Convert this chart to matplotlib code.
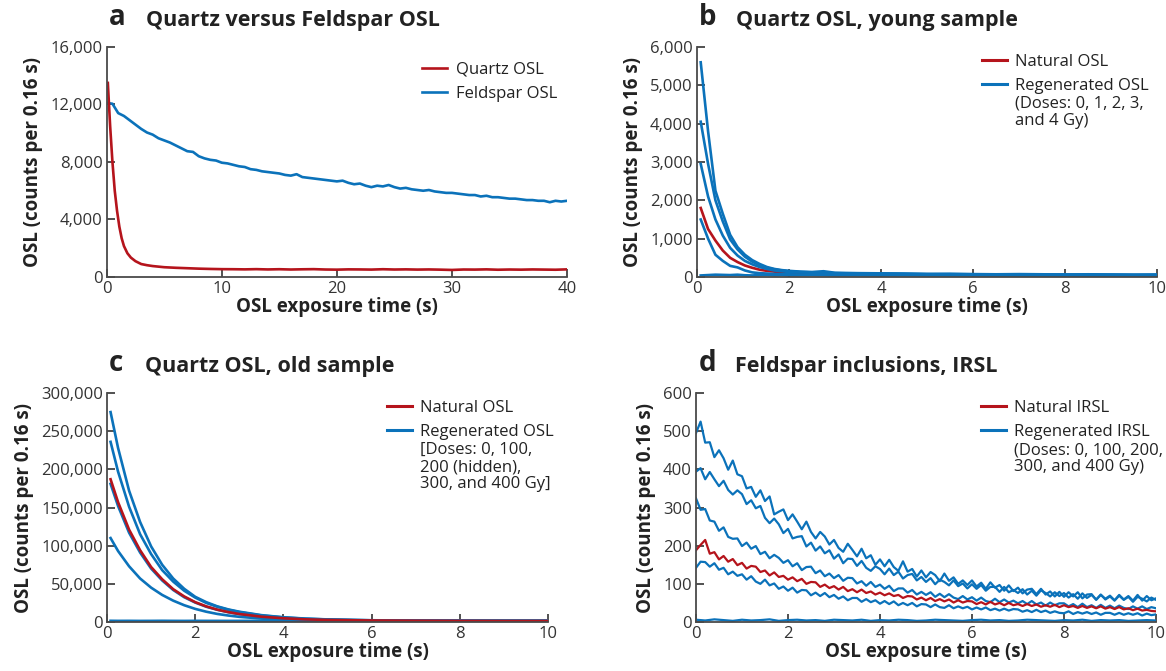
import numpy as np
import matplotlib.pyplot as plt
from matplotlib.ticker import FuncFormatter, MultipleLocator

plt.rcParams['font.family'] = ['Open Sans', 'DejaVu Sans']

RED = '#B5141C'
BLUE = '#0B72BA'

# ---- panel a: quartz vs feldspar OSL ----
t_quartz = [0.1, 0.3, 0.5, 0.7, 0.9, 1.1, 1.3, 1.5, 1.8, 2.1, 2.5, 3.0, 3.5, 4.0,
            5, 6, 7, 8, 9, 10, 11, 12, 13, 14, 15, 16, 17, 18, 19, 20, 21, 22, 23,
            24, 25, 26, 27, 28, 29, 30, 31, 32, 33, 34, 35, 36, 37, 38, 39, 40]
quartz_osl = [13500, 10500, 8000, 6000, 4600, 3500, 2700, 2150, 1650, 1350, 1100, 900,
              820, 760, 680, 640, 610, 580, 560, 545, 540, 530, 545, 525, 540, 520, 535,
              545, 520, 510, 530, 525, 515, 540, 520, 530, 515, 525, 510, 490, 520, 515,
              530, 505, 520, 510, 525, 515, 505, 530]
t_feldspar = [0.1] + [0.5 * k for k in range(1, 81)]
feldspar_osl = [12100, 12050, 11400, 11200, 10900, 10600, 10300, 10050, 9900, 9650, 9500,
                9350, 9150, 8950, 8750, 8700, 8400, 8250, 8150, 8100, 7950, 7900, 7800,
                7700, 7650, 7500, 7450, 7350, 7300, 7250, 7200, 7100, 7050, 7150, 6950,
                6900, 6850, 6800, 6750, 6700, 6650, 6700, 6550, 6450, 6500, 6350, 6250,
                6350, 6300, 6400, 6250, 6150, 6200, 6100, 6050, 6000, 6050, 5950, 5900,
                5850, 5850, 5800, 5750, 5700, 5700, 5600, 5650, 5550, 5550, 5500, 5450,
                5450, 5400, 5350, 5350, 5300, 5300, 5200, 5300, 5250, 5300]

# ---- panel b: quartz, young sample (doses 0-4 Gy) ----
t_young = [0.08, 0.24, 0.40, 0.56, 0.72, 0.88, 1.04, 1.20, 1.36, 1.52, 1.68, 1.84, 2.0,
           2.25, 2.5, 2.75, 3, 3.5, 4, 4.5, 5, 5.5, 6, 6.5, 7, 7.5, 8, 8.5, 9, 9.5, 10]
young_natural = [1800, 1250, 950, 690, 500, 390, 300, 240, 190, 160, 140, 120, 110, 100,
                 90, 85, 80, 75, 70, 65, 60, 60, 55, 55, 50, 50, 50, 45, 45, 45, 45]
young_regen = {
    '4 Gy': [5600, 3800, 2250, 1650, 1100, 780, 580, 440, 340, 260, 210, 180, 160, 140,
             130, 150, 110, 100, 95, 90, 80, 85, 75, 70, 75, 70, 65, 70, 65, 60, 65],
    '3 Gy': [4050, 2950, 2000, 1450, 980, 720, 530, 400, 310, 240, 200, 170, 150, 130,
             120, 110, 100, 90, 85, 80, 75, 70, 70, 65, 65, 60, 60, 55, 60, 55, 55],
    '2 Gy': [2950, 2100, 1500, 1080, 760, 560, 420, 330, 260, 210, 170, 150, 130, 120,
             110, 100, 90, 85, 80, 75, 70, 65, 65, 60, 60, 55, 55, 55, 50, 50, 50],
    '1 Gy': [1500, 1000, 580, 420, 290, 250, 170, 120, 100, 90, 80, 75, 70, 65, 60, 60,
             55, 55, 50, 50, 50, 45, 45, 45, 45, 40, 45, 40, 40, 40, 40],
    '0 Gy': [40, 50, 60, 55, 50, 60, 45, 40, 50, 55, 45, 50, 40, 45, 50, 45, 40, 45, 40,
             45, 40, 40, 45, 40, 40, 45, 40, 40, 40, 40, 40],
}

# ---- panel c: quartz, old sample (doses 0-400 Gy) ----
t_old = [0.08, 0.25, 0.5, 0.75, 1.0, 1.25, 1.5, 1.75, 2.0, 2.25, 2.5, 2.75, 3.0, 3.5,
         4.0, 4.5, 5, 6, 7, 8, 9, 10]
old_natural = [187000, 157000, 121000, 94000, 72000, 56000, 43000, 33500, 26000, 20500,
               16200, 13000, 10500, 7000, 4900, 3500, 2700, 2000, 1700, 1500, 1400, 1400]
old_regen = {
    '400 Gy': [275000, 228000, 172000, 131000, 99000, 75000, 57000, 43500, 33000, 26000,
               20500, 16500, 13500, 9000, 6200, 4500, 3400, 2300, 1900, 1700, 1600, 1500],
    '300 Gy': [236000, 197000, 151000, 115000, 89000, 68000, 53000, 41000, 32000, 25000,
               20000, 16000, 13000, 8600, 6000, 4300, 3300, 2200, 1800, 1600, 1500, 1500],
    '200 Gy': [181000, 152000, 117000, 91000, 70000, 54500, 42000, 32500, 25500, 20000,
               16000, 12800, 10300, 6800, 4700, 3400, 2600, 1900, 1600, 1500, 1400, 1400],
    '100 Gy': [110000, 93000, 73000, 57000, 45000, 35500, 28000, 22000, 17200, 13500,
               10600, 8500, 6800, 4500, 3200, 2500, 2000, 1600, 1400, 1300, 1300, 1300],
    '0 Gy': [1600, 1500, 1550, 1450, 1500, 1600, 1500, 1450, 1550, 1500, 1500, 1450, 1500,
             1550, 1500, 1450, 1500, 1500, 1450, 1500, 1500, 1450],
}

# ---- panel d: feldspar inclusions, IRSL (0.1 s steps, 0-10 s) ----
irsl_natural = [
    188, 202, 215, 179, 183, 164, 173, 158, 165, 149,
    155, 140, 147, 145, 131, 135, 122, 130, 118, 121,
    111, 117, 107, 113, 100, 105, 104, 92, 98, 89,
    94, 85, 92, 81, 86, 78, 85, 76, 80, 72,
    77, 70, 75, 68, 71, 63, 68, 67, 59, 64,
    57, 63, 55, 60, 54, 59, 51, 57, 51, 55,
    54, 47, 52, 46, 53, 46, 50, 44, 50, 44,
    47, 42, 47, 42, 46, 40, 44, 40, 45, 39,
    44, 39, 42, 37, 42, 37, 41, 36, 41, 35,
    39, 34, 39, 33, 36, 31, 35, 30, 32, 29,
    28]
irsl_regen = {
    '400 Gy': [
        495, 525, 470, 471, 432, 450, 429, 399, 423, 387,
        382, 350, 354, 328, 345, 317, 329, 282, 289, 295,
        267, 282, 263, 243, 263, 236, 219, 236, 224, 203,
        215, 194, 184, 205, 189, 172, 192, 167, 175, 150,
        164, 146, 163, 144, 134, 159, 132, 139, 119, 135,
        117, 131, 123, 107, 127, 108, 117, 100, 109, 97,
        109, 93, 103, 87, 104, 90, 97, 82, 96, 81,
        90, 75, 85, 87, 73, 87, 72, 80, 67, 79,
        66, 78, 67, 78, 62, 72, 73, 58, 71, 61,
        69, 57, 71, 59, 68, 56, 71, 56, 68, 57,
        62],
    '300 Gy': [
        394, 403, 374, 393, 374, 356, 370, 346, 334, 345,
        335, 309, 319, 298, 304, 273, 259, 271, 256, 233,
        244, 219, 223, 225, 198, 208, 187, 198, 180, 188,
        166, 177, 154, 166, 165, 147, 160, 142, 134, 146,
        139, 125, 140, 123, 132, 114, 123, 126, 109, 118,
        105, 115, 99, 111, 105, 96, 109, 94, 101, 88,
        99, 87, 97, 82, 92, 92, 79, 92, 78, 84,
        76, 86, 72, 82, 69, 83, 76, 67, 78, 68,
        76, 64, 73, 61, 75, 63, 71, 59, 72, 59,
        67, 56, 69, 58, 66, 53, 66, 61, 54, 64,
        58],
    '200 Gy': [
        324, 294, 296, 266, 263, 239, 248, 223, 218, 219,
        199, 208, 192, 199, 178, 184, 167, 176, 168, 155,
        162, 146, 154, 136, 144, 145, 128, 135, 120, 127,
        115, 123, 108, 116, 115, 101, 107, 95, 105, 92,
        98, 87, 95, 81, 88, 88, 77, 84, 72, 79,
        71, 78, 66, 74, 65, 73, 64, 60, 68, 59,
        65, 56, 64, 55, 52, 61, 52, 59, 51, 56,
        49, 55, 47, 55, 46, 51, 43, 51, 44, 49,
        49, 41, 47, 39, 48, 39, 44, 37, 45, 37,
        43, 36, 43, 37, 34, 41, 35, 41, 34, 39,
        36],
    '100 Gy': [
        142, 158, 157, 145, 154, 137, 142, 125, 132, 121,
        125, 111, 120, 106, 100, 111, 96, 101, 87, 93,
        82, 90, 77, 84, 83, 70, 77, 68, 76, 65,
        71, 61, 67, 57, 63, 63, 53, 60, 52, 57,
        48, 55, 47, 54, 44, 50, 44, 50, 41, 47,
        46, 39, 46, 39, 37, 44, 36, 41, 36, 40,
        33, 38, 33, 38, 31, 35, 30, 35, 30, 34,
        33, 27, 31, 26, 32, 26, 30, 24, 28, 24,
        23, 28, 21, 26, 22, 26, 21, 25, 19, 24,
        24, 19, 24, 19, 23, 19, 23, 17, 22, 18,
        20],
    '0 Gy': [6, 4, 7, 5, 3, 6, 4, 5, 7, 3, 5, 6, 4, 5, 3, 6, 5, 4, 6, 3, 5, 4, 6, 5, 3, 4,
             6, 5, 4, 3, 5, 6, 4, 5, 3, 4, 6, 5, 4, 3, 5, 4, 6, 3, 5, 4, 5, 3, 4, 5, 4],
}

fig = plt.figure(figsize=(11.66, 6.71), dpi=100)
ax_a = fig.add_axes([0.0915, 0.5872, 0.3948, 0.3428])
ax_b = fig.add_axes([0.5978, 0.5872, 0.3945, 0.3428])
ax_c = fig.add_axes([0.0918, 0.0730, 0.3782, 0.3413])
ax_d = fig.add_axes([0.5969, 0.0730, 0.3945, 0.3413])

comma = FuncFormatter(lambda v, p: f'{v:,.0f}')


def style(ax, xmax, xstep, ymax, ystep):
    ax.set_xlim(0, xmax)
    ax.set_ylim(0, ymax)
    ax.xaxis.set_major_locator(MultipleLocator(xstep))
    ax.yaxis.set_major_locator(MultipleLocator(ystep))
    ax.yaxis.set_major_formatter(comma)
    for s in ['top', 'right']:
        ax.spines[s].set_visible(False)
    for s in ['left', 'bottom']:
        ax.spines[s].set_color('#4a4a4a')
        ax.spines[s].set_linewidth(1.3)
    ax.tick_params(direction='in', length=6, width=1.2, color='#333333',
                   labelsize=12, labelcolor='#333333', pad=3)
    ax.set_xlabel('OSL exposure time (s)', fontsize=13.5, fontweight='bold',
                  color='#222222', labelpad=0)
    ax.set_ylabel('OSL (counts per 0.16 s)', fontsize=13.5, fontweight='bold',
                  color='#222222', labelpad=5)


def title(ax, letter, text):
    ax.text(0.005, 1.065, letter, transform=ax.transAxes, fontsize=20, fontweight='bold',
            color='#222222', va='bottom', ha='left')
    ax.text(0.085, 1.07, text, transform=ax.transAxes, fontsize=15.5, fontweight='bold',
            color='#222222', va='bottom', ha='left')


lw = 1.9

# panel a
ax_a.plot(t_feldspar, feldspar_osl, color=BLUE, lw=lw, label='Feldspar OSL')
ax_a.plot(t_quartz, quartz_osl, color=RED, lw=lw, label='Quartz OSL')
style(ax_a, 40, 10, 16000, 4000)
title(ax_a, 'a', 'Quartz versus Feldspar OSL')
h, l = ax_a.get_legend_handles_labels()
ax_a.legend(h[::-1], l[::-1], loc='upper right', bbox_to_anchor=(1.0, 0.98), frameon=False,
            fontsize=12, handlelength=1.5, handletextpad=0.5, labelspacing=0.5,
            borderaxespad=0.2, labelcolor='#222222')

# panel b
for k, v in young_regen.items():
    ax_b.plot(t_young, v, color=BLUE, lw=lw)
ax_b.plot(t_young, young_natural, color=RED, lw=lw, zorder=1.9)
style(ax_b, 10, 2, 6000, 1000)
title(ax_b, 'b', 'Quartz OSL, young sample')

# panel c
for k, v in old_regen.items():
    ax_c.plot(t_old, v, color=BLUE, lw=lw)
ax_c.plot(t_old, old_natural, color=RED, lw=lw)
style(ax_c, 10, 2, 300000, 50000)
title(ax_c, 'c', 'Quartz OSL, old sample')

# panel d
for k, v in irsl_regen.items():
    ax_d.plot(np.linspace(0, 10, len(v)), v, color=BLUE, lw=1.6)
ax_d.plot(np.linspace(0, 10, len(irsl_natural)), irsl_natural, color=RED, lw=1.6)
style(ax_d, 10, 2, 600, 100)
title(ax_d, 'd', 'Feldspar inclusions, IRSL')


def legend_with_note(ax, nat_label, reg_label, note, anchor):
    hs = [plt.Line2D([], [], color=RED, lw=2.2), plt.Line2D([], [], color=BLUE, lw=2.2)]
    leg = ax.legend(hs, [nat_label, reg_label], loc='upper left', bbox_to_anchor=anchor,
                    frameon=False, fontsize=12, handlelength=1.5, handletextpad=0.5,
                    labelspacing=0.5, borderaxespad=0, labelcolor='#222222')
    fig.canvas.draw()
    bb = leg.get_texts()[1].get_window_extent()
    x, y = fig.transFigure.inverted().transform((bb.x0, bb.y0))
    fig.text(x, y - 0.003, note, fontsize=12, color='#222222', va='top', ha='left',
             linespacing=1.1)


legend_with_note(ax_b, 'Natural OSL', 'Regenerated OSL', '(Doses: 0, 1, 2, 3,\nand 4 Gy)',
                 (0.605, 1.0))
legend_with_note(ax_c, 'Natural OSL', 'Regenerated OSL',
                 '[Doses: 0, 100,\n200 (hidden),\n300, and 400 Gy]', (0.62, 1.0))
legend_with_note(ax_d, 'Natural IRSL', 'Regenerated IRSL',
                 '(Doses: 0, 100, 200,\n300, and 400 Gy)', (0.605, 1.0))

fig.savefig('out.png', dpi=100)
